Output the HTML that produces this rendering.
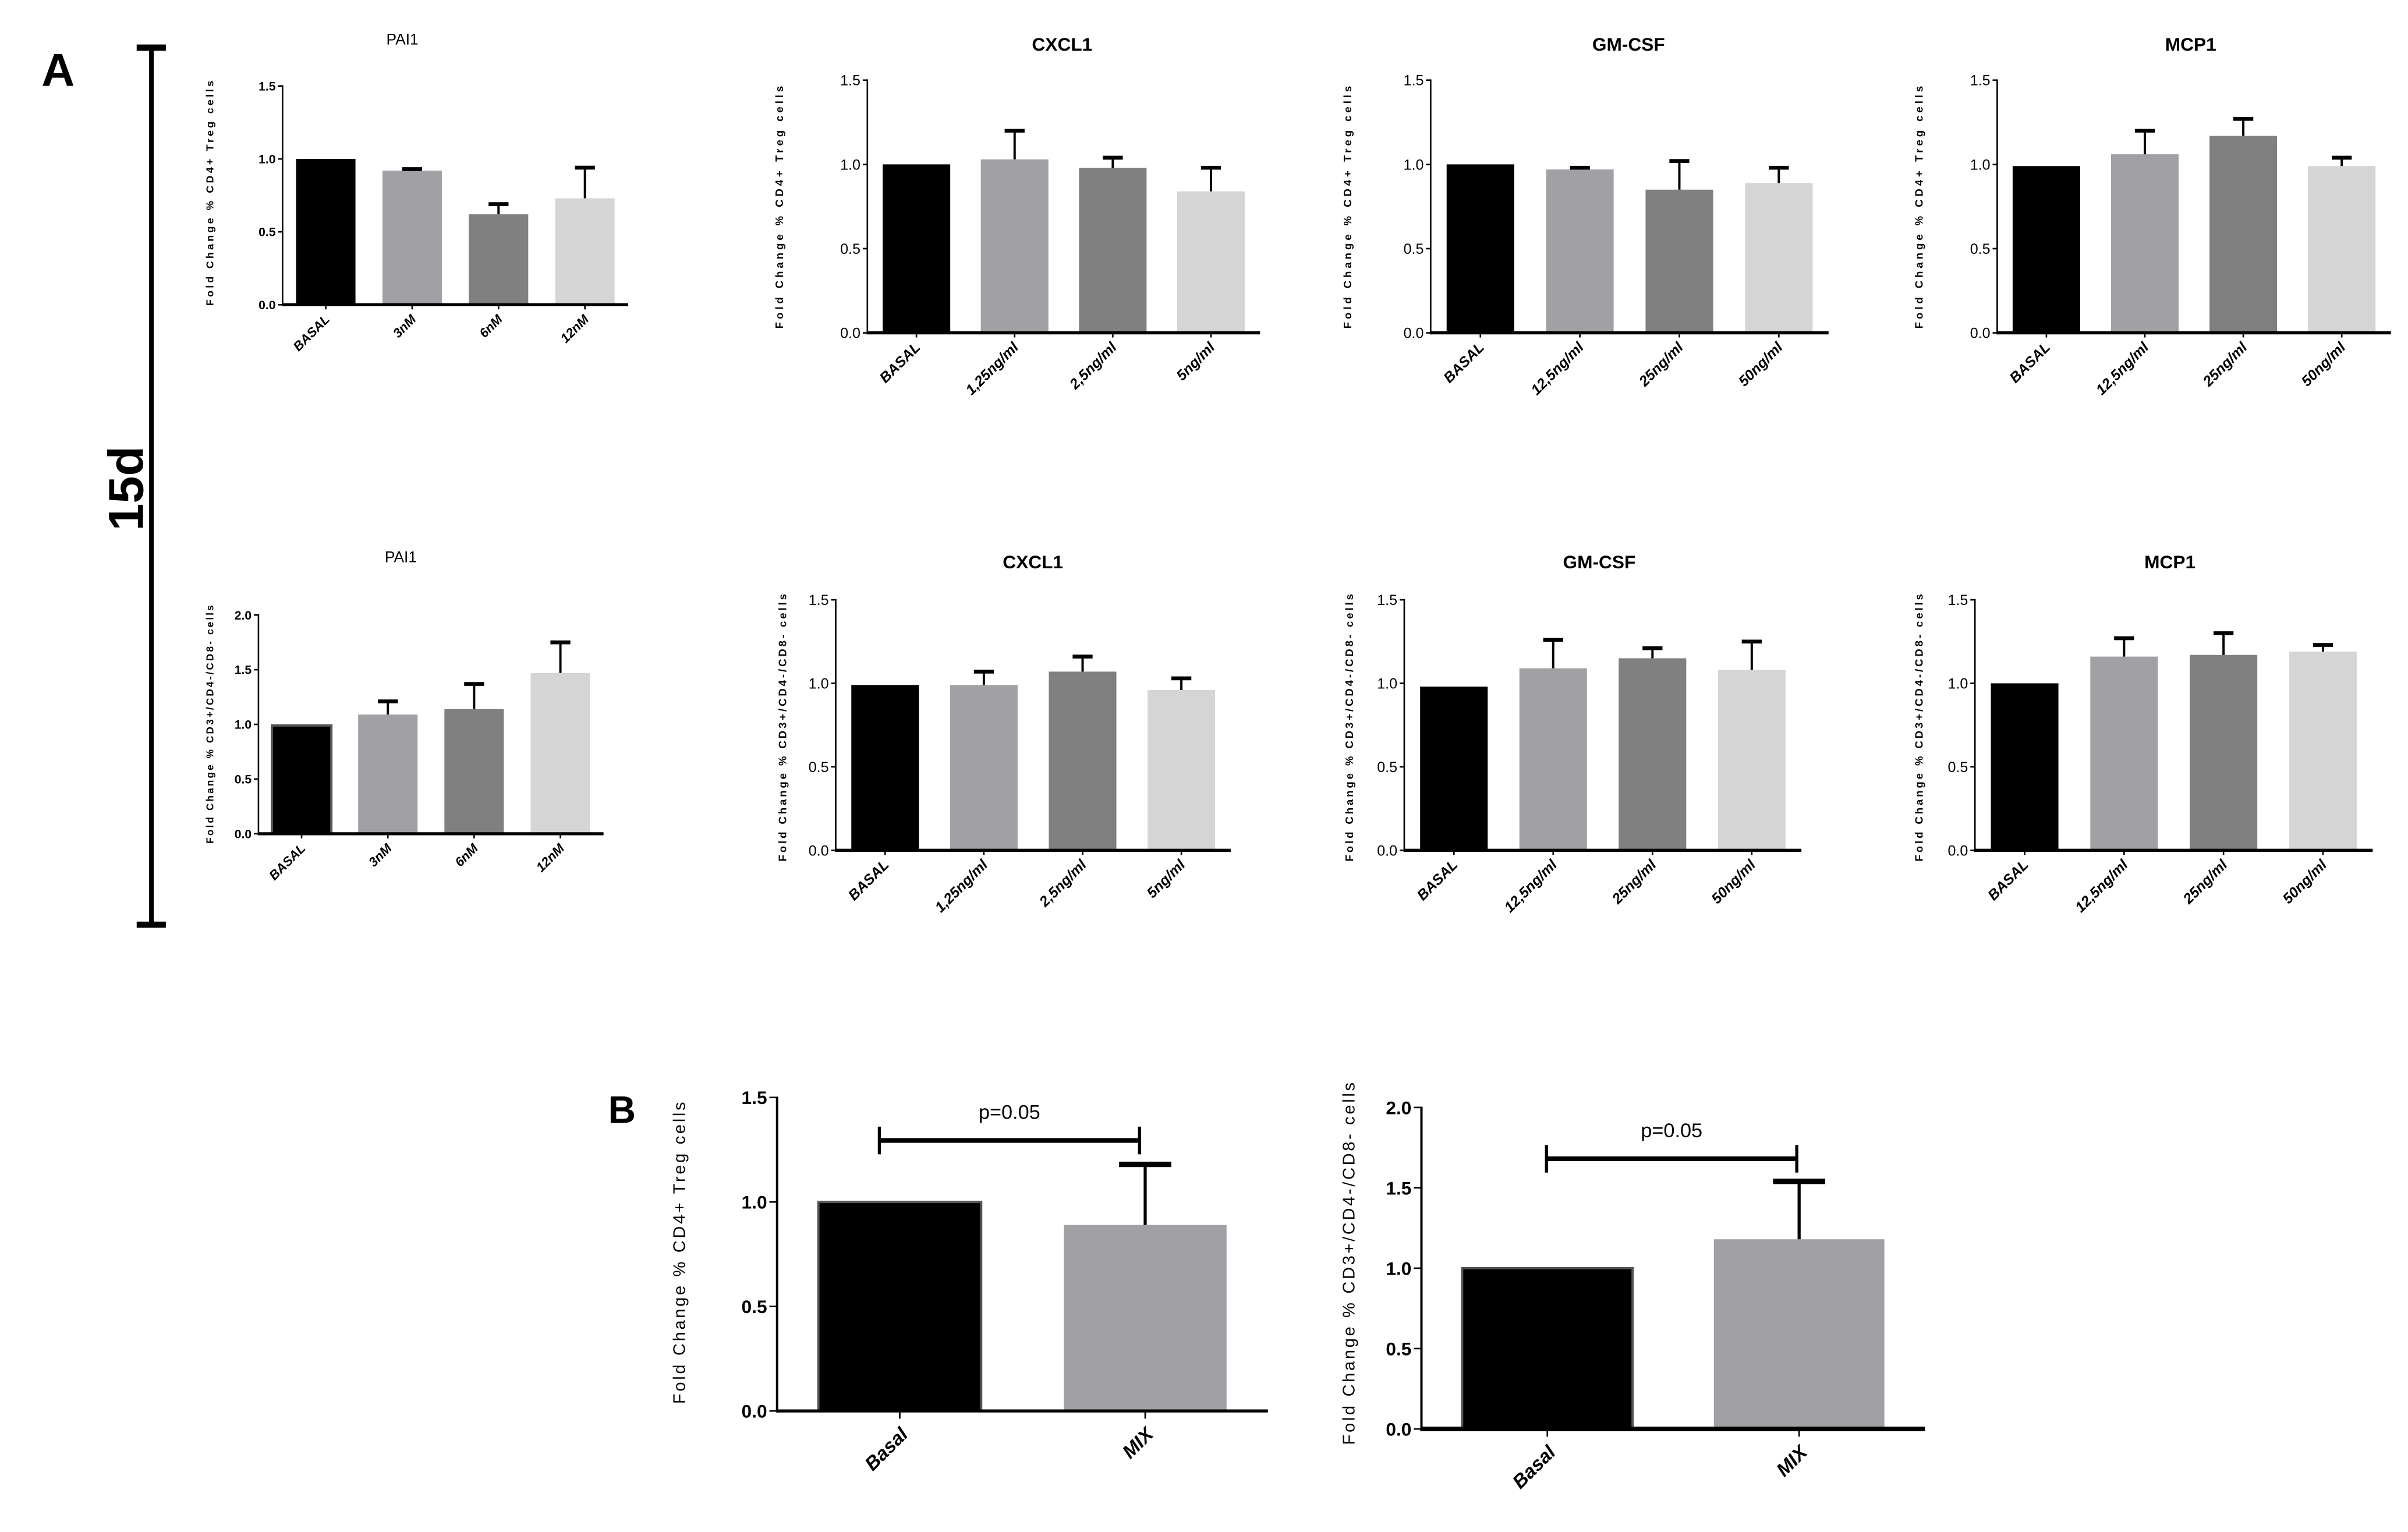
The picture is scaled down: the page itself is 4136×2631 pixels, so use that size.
<!DOCTYPE html>
<html><head><meta charset="utf-8"><style>
html,body{margin:0;padding:0;background:#fff;}
svg{display:block;}
text{font-family:"Liberation Sans",sans-serif;}
</style></head><body>
<svg id="fig" width="4136" height="2631" viewBox="0 0 1568 997.4" preserveAspectRatio="none" xmlns="http://www.w3.org/2000/svg">
<rect width="1568" height="997.4" fill="#fff"/>
<text x="27" y="56" font-size="30" font-weight="bold">A</text>
<text x="396" y="731" font-size="25" font-weight="bold">B</text>
<g>
<line x1="98.6" y1="31" x2="98.6" y2="602" stroke="#000" stroke-width="3"/>
<line x1="89" y1="31" x2="108" y2="31" stroke="#000" stroke-width="4"/>
<line x1="89" y1="602" x2="108" y2="602" stroke="#000" stroke-width="4"/>
</g>
<text transform="translate(93,318) rotate(-90)" text-anchor="middle" font-size="32" font-weight="bold">15d</text>
<g id="plots"></g>
</svg>
<script>
// ---- data ----
const pai1Cats = ["BASAL","3nM","6nM","12nM"];
const cxcl1Cats = ["BASAL","1,25ng/ml","2,5ng/ml","5ng/ml"];
const gmcsfCats = ["BASAL","12,5ng/ml","25ng/ml","50ng/ml"];
const mcp1Cats = ["BASAL","12,5ng/ml","25ng/ml","50ng/ml"];
const mixCats = ["Basal","MIX"];

const pai1TregVals = [1.0, 0.92, 0.62, 0.73];
const pai1TregErr = [1.0, 0.93, 0.69, 0.94];
const cxcl1TregVals = [1.0, 1.03, 0.98, 0.84];
const cxcl1TregErr = [1.0, 1.20, 1.04, 0.98];
const gmcsfTregVals = [1.0, 0.97, 0.85, 0.89];
const gmcsfTregErr = [1.0, 0.98, 1.02, 0.98];
const mcp1TregVals = [0.99, 1.06, 1.17, 0.99];
const mcp1TregErr = [0.99, 1.20, 1.27, 1.04];

const pai1DnVals = [0.99, 1.09, 1.14, 1.47];
const pai1DnErr = [0.99, 1.21, 1.37, 1.75];
const cxcl1DnVals = [0.99, 0.99, 1.07, 0.96];
const cxcl1DnErr = [0.99, 1.07, 1.16, 1.03];
const gmcsfDnVals = [0.98, 1.09, 1.15, 1.08];
const gmcsfDnErr = [0.98, 1.26, 1.21, 1.25];
const mcp1DnVals = [1.0, 1.16, 1.17, 1.19];
const mcp1DnErr = [1.0, 1.27, 1.30, 1.23];

const mixTregVals = [1.0, 0.89];
const mixTregErr = [1.0, 1.18];
const mixDnVals = [1.0, 1.18];
const mixDnErr = [1.0, 1.54];

const ticks15 = [0.0, 0.5, 1.0, 1.5];
const ticks20 = [0.0, 0.5, 1.0, 1.5, 2.0];
const pValueLabel = "p=0.05";

const barColors = ["#000000","#a1a1a5","#808080","#d5d5d5"];
const NS = "http://www.w3.org/2000/svg";
const root = document.getElementById("plots");

function mk(tag, attrs, parent){
  const e = document.createElementNS(NS, tag);
  for (const k in attrs) e.setAttribute(k, attrs[k]);
  (parent||root).appendChild(e);
  return e;
}

function panel(p){
  const g = mk("g", {});
  
  
  const ymax = p.ticks[p.ticks.length-1];
  const yScale = v => p.y0 - (p.y0 - p.yTop) * v / ymax;
  const n = p.cats.length;
  const step = (p.xEnd - p.ax - p.pad) / n;
  const xLeft = i => p.ax + p.pad + i*step;
  if (p.title){
    const t = mk("text", {x:p.titleX, y:p.titleY, "text-anchor":"middle", "font-size":p.titleSize, "font-weight":p.titleBold?"bold":"normal"}, g);
    t.textContent = p.title;
    
    
  }
  p.vals.forEach((v,i)=>{
    const x = xLeft(i) + (step - p.bw)/2 - p.shift;
    const r = mk("rect", {x:x, y:yScale(v), width:p.bw, height:p.y0 - yScale(v), fill:p.colors[i]}, g);
    if (i===0 && p.outline){ r.setAttribute("stroke","#555"); r.setAttribute("stroke-width","1.5"); }
    
    
    const cx = x + p.bw/2;
    const e = p.err[i];
    if (e > v + 0.005){
      const eb = mk("g", {}, g);
      
      
      mk("line", {x1:cx, y1:yScale(v), x2:cx, y2:yScale(e), stroke:"#000", "stroke-width":p.ew}, eb);
      mk("line", {x1:cx-p.cap, y1:yScale(e), x2:cx+p.cap, y2:yScale(e), stroke:"#000", "stroke-width":p.capw}, eb);
    }
    mk("line", {x1:cx, y1:p.y0, x2:cx, y2:p.y0+p.tickLen, stroke:"#000", "stroke-width":1}, g);
    const lx = cx + p.labDx, ly = p.y0 + p.labDy;
    const lt = mk("text", {x:lx, y:ly, transform:`rotate(-45 ${lx} ${ly})`, "text-anchor":"end", "font-size":p.labSize, "font-weight":"bold", "font-style":p.italic?"italic":"normal"}, g);
    lt.textContent = p.cats[i];
    
    
  });
  const ya = mk("line", {x1:p.ax, y1:p.yTop-0.5, x2:p.ax, y2:p.y0+p.axw/2, stroke:"#000", "stroke-width":p.yaw}, g);
  
  
  const xa = mk("line", {x1:p.ax, y1:p.y0, x2:p.xEnd, y2:p.y0, stroke:"#000", "stroke-width":p.axw}, g);
  
  
  p.ticks.forEach(t=>{
    const yy = yScale(t);
    mk("line", {x1:p.ax-p.tickLen, y1:yy, x2:p.ax, y2:yy, stroke:"#000", "stroke-width":1}, g);
    const tt = mk("text", {x:p.ax-p.tickLen-1.5, y:yy+p.tickSize*0.36, "text-anchor":"end", "font-size":p.tickSize, "font-weight":p.tickBold?"bold":"normal", "font-family":"Liberation Sans Narrow, Liberation Sans, sans-serif"}, g);
    tt.textContent = t.toFixed(1);
    
    
  });
  const yt = mk("text", {x:p.ytx, y:p.yty, transform:`rotate(-90 ${p.ytx} ${p.yty})`, "text-anchor":"middle", "font-size":p.ytSize, "font-weight":p.ytBold?"bold":"normal", "letter-spacing":p.ytLs}, g);
  yt.textContent = p.ytitle;
  
  
  if (p.brY){
    const bg = mk("g", {}, g);
    
    
    mk("line", {x1:p.brX1, y1:p.brY, x2:p.brX2, y2:p.brY, stroke:"#000", "stroke-width":3}, bg);
    mk("line", {x1:p.brX1, y1:p.brY-9, x2:p.brX1, y2:p.brY+9, stroke:"#000", "stroke-width":2}, bg);
    mk("line", {x1:p.brX2, y1:p.brY-9, x2:p.brX2, y2:p.brY+9, stroke:"#000", "stroke-width":2}, bg);
    const pt = mk("text", {x:(p.brX1+p.brX2)/2, y:p.brY-14, "text-anchor":"middle", "font-size":13}, bg);
    pt.textContent = pValueLabel;
    
    
  }
}

const small = {bw:44, shift:0, ew:1.5, cap:6.5, capw:2.5, tickLen:3, labDx:3, labDy:10, labSize:9.5, italic:true,
  tickSize:9.5, tickBold:false, axw:2, yaw:1, ytSize:7, ytBold:true, ytLs:1.9, titleSize:12, titleBold:true, colors:barColors, outline:false};

const trTitle = "Fold Change % CD4+ Treg cells";
const dnTitle = "Fold Change % CD3+/CD4-/CD8- cells";

panel(Object.assign({}, small, {name:"pai1-treg-chart", title:"PAI1", titleX:262, titleY:29, titleSize:10, titleBold:false,
  cats:pai1Cats, vals:pai1TregVals, err:pai1TregErr, ticks:ticks15, ax:184, yTop:56, y0:198.4, xEnd:409, pad:0, bw:38.7,
  ytx:139, yty:125, ytitle:trTitle, ytSize:6.8, ytLs:1.6, tickSize:8, tickBold:true, labSize:8.5}));
panel(Object.assign({}, small, {name:"cxcl1-treg-chart", title:"CXCL1", titleX:691.6, titleY:33,
  cats:cxcl1Cats, vals:cxcl1TregVals, err:cxcl1TregErr, ticks:ticks15, ax:564.8, yTop:52.2, y0:216.7, xEnd:820.5, pad:0,
  ytx:510, yty:134, ytitle:trTitle}));
panel(Object.assign({}, small, {name:"gmcsf-treg-chart", title:"GM-CSF", titleX:1060.5, titleY:33,
  cats:gmcsfCats, vals:gmcsfTregVals, err:gmcsfTregErr, ticks:ticks15, ax:931.6, yTop:52.2, y0:216.7, xEnd:1190.7, pad:0,
  ytx:880, yty:134, ytitle:trTitle}));
panel(Object.assign({}, small, {name:"mcp1-treg-chart", title:"MCP1", titleX:1426.5, titleY:33,
  cats:mcp1Cats, vals:mcp1TregVals, err:mcp1TregErr, ticks:ticks15, ax:1300.5, yTop:52.2, y0:216.7, xEnd:1556.9, pad:0,
  ytx:1252, yty:134, ytitle:trTitle}));

panel(Object.assign({}, small, {name:"pai1-dn-chart", title:"PAI1", titleX:261, titleY:366, titleSize:10, titleBold:false,
  cats:pai1Cats, vals:pai1DnVals, err:pai1DnErr, ticks:ticks20, ax:168.3, yTop:400.4, y0:542.8, xEnd:393, pad:0, bw:38.7,
  ytx:139, yty:471, ytitle:dnTitle, ytSize:6.5, ytLs:1.2, tickSize:8, tickBold:true, labSize:8.5, outline:true}));
panel(Object.assign({}, small, {name:"cxcl1-dn-chart", title:"CXCL1", titleX:672.6, titleY:370,
  cats:cxcl1Cats, vals:cxcl1DnVals, err:cxcl1DnErr, ticks:ticks15, ax:544.2, yTop:390.5, y0:553.6, xEnd:801.4, pad:0,
  ytx:512, yty:473, ytitle:dnTitle, ytLs:1.5}));
panel(Object.assign({}, small, {name:"gmcsf-dn-chart", title:"GM-CSF", titleX:1041.4, titleY:370,
  cats:gmcsfCats, vals:gmcsfDnVals, err:gmcsfDnErr, ticks:ticks15, ax:914.4, yTop:390.5, y0:553.6, xEnd:1173, pad:0,
  ytx:881, yty:473, ytitle:dnTitle, ytLs:1.5}));
panel(Object.assign({}, small, {name:"mcp1-dn-chart", title:"MCP1", titleX:1413, titleY:370,
  cats:mcp1Cats, vals:mcp1DnVals, err:mcp1DnErr, ticks:ticks15, ax:1286, yTop:390.5, y0:553.6, xEnd:1545, pad:0,
  ytx:1252, yty:473, ytitle:dnTitle, ytLs:1.5}));

const big = {bw:107, shift:0, ew:2, cap:17, capw:3.5, tickLen:5, labDx:6, labDy:16, labSize:12.5, italic:true,
  tickSize:12, tickBold:true, ytSize:11, ytBold:false, ytLs:1.4, colors:["#000000","#a1a1a5"], outline:true, pad:0};
panel(Object.assign({}, big, {name:"mix-treg-chart", cats:mixCats, vals:mixTregVals, err:mixTregErr, ticks:ticks15,
  ax:506, yTop:714.5, y0:918.6, xEnd:825.6, bw:106, axw:2, yaw:1.5, ytx:446, yty:815, ytitle:"Fold Change % CD4+ Treg cells",
  brY:742.5, brX1:572.6, brX2:742}));
panel(Object.assign({}, big, {name:"mix-dn-chart", cats:mixCats, vals:mixDnVals, err:mixDnErr, ticks:ticks20,
  ax:925.6, yTop:721, y0:930.3, xEnd:1253.5, bw:111, axw:3, yaw:1.5, ytx:882, yty:822, ytitle:"Fold Change % CD3+/CD4-/CD8- cells",
  brY:754.4, brX1:1007, brX2:1170}));
</script>
</body></html>
